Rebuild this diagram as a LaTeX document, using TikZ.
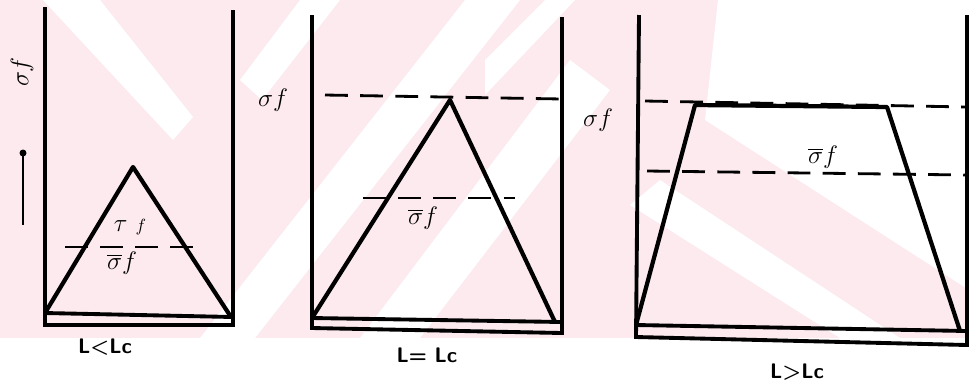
\documentclass[tikz,border=0pt]{standalone}
\usepackage{amsmath,amssymb}
\usepackage{tikz}
\usetikzlibrary{positioning}
\definecolor{wmpink}{RGB}{252,234,238}

\begin{document}
\begin{tikzpicture}[x=0.02cm,y=-0.02cm,font=\fontsize{14}{16}\selectfont,
 wall/.style={line width=2.2pt},
 curve/.style={line width=2.4pt,line join=round},
 level/.style={line width=1.6pt,dash pattern=on 13pt off 7pt},
 sig/.style={inner sep=1pt},
 lab/.style={inner sep=1pt,font=\sffamily\bfseries\fontsize{12}{14}\selectfont}]
\useasboundingbox (0,0) rectangle (969,387);
% faint watermark behind the plots
\begin{scope}
\clip (0,0) rectangle (969,338);
\fill[wmpink] (0,0) rectangle (969,338);
\fill[white] (43,0) -- (100,0) -- (193,117) -- (173,140) -- cycle;
\fill[white] (200,338) -- (255,338) -- (520,0) -- (465,0) -- cycle;
\fill[white] (240,80) -- (300,0) -- (340,0) -- (262,100) -- cycle;
\fill[white] (360,338) -- (420,338) -- (610,90) -- (570,60) -- cycle;
\fill[white] (485,60) -- (545,0) -- (575,0) -- (485,95) -- cycle;
\fill[white] (718,0) -- (969,0) -- (969,290) -- (705,120) -- cycle;
\fill[white] (630,205) -- (660,180) -- (900,338) -- (840,338) -- cycle;
\end{scope}

% L < Lc
\draw[wall] (45,7) -- (45,325) -- (233,325) -- (233,10);
\draw[wall] (45,313) -- (233,317);
\draw[curve] (45,313) -- (133,167) -- (231,317);
\draw[level] (65,247) -- (205,247);
\node[sig,rotate=90] (ax1) at (22,72) {$\sigma f$};
\fill (23,153) circle (3.5);
\draw[line width=1.4pt] (23,153) -- (23,225);
\node[sig] (tau1) at (130,227) {$\tau\ {\scriptstyle f}$};
\node[sig] (mean1) at (122,263) {$\overline{\sigma}f$};
\node[lab] (cap1) at (105,347) {L<Lc};

% L = Lc
\draw[wall] (312,15) -- (312,328) -- (562,333) -- (562,17);
\draw[wall] (312,318) -- (562,322);
\draw[curve] (312,318) -- (450,100) -- (555,322);
\draw[level] (325,95) -- (562,99);
\draw[level] (363,198) -- (515,198);
\node[sig] (max2) at (273,100) {$\sigma f$};
\node[sig] (mean2) at (423,218) {$\overline{\sigma}f$};
\node[lab] (cap2) at (427,355) {L= Lc};

% L > Lc
\draw[wall] (639,15) -- (636,337) -- (967,345) -- (967,15);
\draw[wall] (636,325) -- (967,331);
\draw[curve] (636,325) -- (695,105) -- (887,107) -- (960,331);
\draw[level] (645,101) -- (967,107);
\draw[level] (647,171) -- (967,175);
\node[sig] (max3) at (598,120) {$\sigma f$};
\node[sig] (mean3) at (823,157) {$\overline{\sigma}f$};
\node[lab] (cap3) at (797,372) {L>Lc};
\end{tikzpicture}
\end{document}
